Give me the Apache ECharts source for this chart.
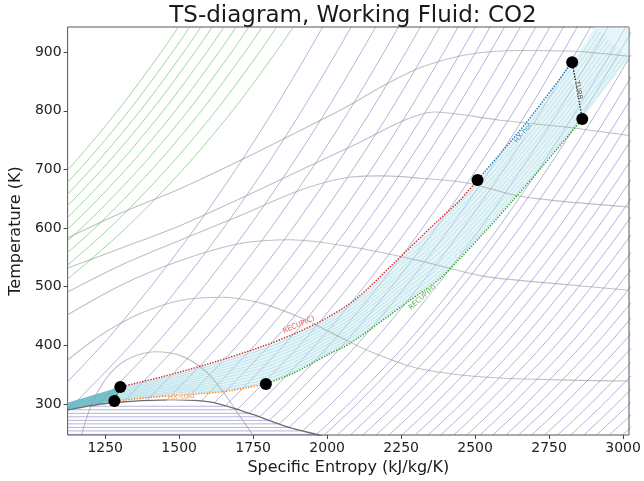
<!DOCTYPE html>
<html>
<head>
<meta charset="utf-8">
<script src="https://cdn.jsdelivr.net/npm/echarts@6/dist/echarts.min.js"></script>
<style>
html, body { margin: 0; padding: 0; background: #fff; }
#chart { width: 644px; height: 481px; }
</style>
</head>
<body>
<div id="chart"></div>
<script>
// axis ticks
var xTicks = [1250, 1500, 1750, 2000, 2250, 2500, 2750, 3000];
var yTicks = [300, 400, 500, 600, 700, 800, 900];

// cycle states (s, T)
var stateS = [1281, 1301, 2508, 2828, 2862, 1793];
var stateT = [305, 329, 682, 883, 786, 334];

// process paths
var compPath = [[1281, 305], [1301, 329]];
var recupCPath = [[1301, 329], [1440, 346], [1610, 370], [1780, 398], [1900, 422], [2000, 447], [2100, 480], [2225, 540], [2373, 612], [2450, 648], [2508, 682]];
var hxHotPath = [[2508, 682], [2670, 778], [2828, 883]];
var turbPath = [[2828, 883], [2862, 786]];
var recupHPath = [[2862, 786], [2777, 735], [2710, 695], [2629, 648], [2528, 591], [2383, 515], [2272, 474], [2080, 404], [2002, 384], [1888, 353], [1793, 334]];
var hxColdPath = [[1793, 334], [1650, 321], [1500, 315], [1400, 311], [1281, 305]];

// process labels
var procNames = ['HX-cold', 'RECUP(C)', 'RECUP(H)', 'HX-hot', 'TURB'];
var procS = [1507, 1904, 2322, 2663, 2848];
var procT = [312, 435, 482, 762, 835];

// cycle pressure band edges
var highPEdge = [[1123, 302], [1301, 329], [1440, 346], [1610, 370], [1780, 398], [1900, 422], [2000, 447], [2100, 480], [2225, 540], [2373, 612], [2508, 682], [2670, 778], [2828, 883], [2905, 943]];
var lowPEdge = [[1123, 291], [1281, 305], [1500, 315], [1650, 321], [1793, 334], [1888, 353], [2002, 384], [2080, 404], [2272, 474], [2383, 515], [2528, 591], [2710, 695], [2862, 786], [3020, 890]];
var bandFractions = [0.08, 0.16, 0.24, 0.32, 0.4, 0.48, 0.56, 0.64, 0.72, 0.8, 0.88, 0.95];

// saturation dome
var domeS = [1123, 1271, 1473, 1608, 1743, 1877, 1972, 2012];
var domeT = [290, 302, 307, 303, 283, 259, 247, 240];

// isobars under the dome
var satT = [296, 290, 284, 278, 272, 266, 260, 254, 248];
var satLiqS = [1197, 1123, 1123, 1123, 1123, 1123, 1123, 1123, 1123];
var satVapS = [1655, 1696, 1736, 1771, 1804, 1838, 1871, 1917, 1964];

// blue lines: shape and position (s at 600 K)
var isoT = [247, 300, 400, 500, 600, 700, 800, 900, 945];
var isoDs = [0, 111, 301, 466, 616, 753, 880, 998, 1049];
var isoS600 = [1554, 1650, 1733, 1810, 1884, 1950, 2012, 2070, 2120, 2606, 2650, 2694, 2737, 2781, 2825, 2869, 2913, 2957, 3000, 3044,
  3088, 3132, 3176, 3220, 3263, 3307, 3351, 3395, 3439, 3483, 3526, 3570, 3614];

// green lines: shape and position (s at top)
var gT = [450, 500, 600, 700, 800, 900, 945];
var gDs = [0, 132, 360, 553, 720, 867, 928];
var gTopS = [1500, 1538, 1576, 1614, 1654, 1695, 1738, 1783, 1832, 1888];

// grey humped curves
var hump1 = [[1123, 583], [1305, 626], [1507, 668], [1709, 716], [1911, 767], [2063, 806], [2187, 842], [2316, 874], [2484, 897], [2653, 903], [2821, 902], [3020, 893]];
var hump2 = [[1123, 532], [1305, 566], [1507, 605], [1709, 651], [1911, 699], [2113, 747], [2248, 781], [2359, 798], [2585, 784], [2811, 772], [3020, 758]];
var hump3 = [[1123, 491], [1305, 537], [1507, 580], [1709, 622], [1911, 665], [2080, 687], [2191, 689], [2316, 685], [2474, 677], [2642, 655], [2787, 646], [3020, 636]];
var hump4 = [[1123, 452], [1305, 503], [1507, 545], [1709, 574], [1877, 580], [2080, 568], [2305, 545], [2528, 518], [2754, 506], [3020, 494]];
var hump5 = [[1123, 375], [1237, 418], [1372, 455], [1507, 477], [1642, 482], [1776, 472], [1911, 447], [2036, 416], [2147, 389], [2305, 361], [2528, 346], [2787, 341], [3020, 339]];
var hump6 = [[1170, 247], [1203, 298], [1254, 344], [1321, 375], [1416, 389], [1507, 382], [1591, 355], [1658, 314], [1709, 276], [1749, 247]];

var FONT = 'DejaVu Sans';

function interp(xs, ys, x) {
    if (x <= xs[0]) return ys[0];
    for (var i = 1; i < xs.length; i++) {
        if (x <= xs[i]) {
            var t = (x - xs[i - 1]) / (xs[i] - xs[i - 1]);
            return ys[i - 1] + t * (ys[i] - ys[i - 1]);
        }
    }
    return ys[ys.length - 1];
}

function domeAt(s) {
    if (s > domeS[domeS.length - 1]) return -Infinity;
    return interp(domeS, domeT, s);
}

// drop the part of a line that lies inside the dome
function clipDome(pts) {
    var i = 0;
    while (i < pts.length && pts[i][1] < domeAt(pts[i][0])) i++;
    if (i === 0 || i === pts.length) return i === 0 ? pts : [];
    var a = pts[i - 1], b = pts[i], lo = 0, hi = 1;
    for (var k = 0; k < 30; k++) {
        var m = (lo + hi) / 2;
        var s = a[0] + m * (b[0] - a[0]), T = a[1] + m * (b[1] - a[1]);
        if (T < domeAt(s)) lo = m; else hi = m;
    }
    var cut = [a[0] + hi * (b[0] - a[0]), a[1] + hi * (b[1] - a[1])];
    return [cut].concat(pts.slice(i));
}

function line(data, color, width, opts) {
    opts = opts || {};
    return {
        type: 'line', data: data, showSymbol: false, symbol: 'none', silent: true,
        smooth: opts.smooth === undefined ? 0.3 : opts.smooth,
        z: opts.z || 1, clip: true,
        lineStyle: {color: color, width: width, type: opts.type || 'solid'}
    };
}

var series = [];

// green lines
var greenColor = 'rgba(120,195,120,0.7)';
gTopS.forEach(function (top) {
    var pts = gT.map(function (T, i) { return [top - gDs[gDs.length - 1] + gDs[i], T]; });
    series.push(line(pts, greenColor, 1));
});

// blue lines
var blueColor = 'rgba(105,105,185,0.5)';
isoS600.forEach(function (s600) {
    var pts = isoT.map(function (T, i) { return [s600 + isoDs[i] - 616, T]; });
    series.push(line(clipDome(pts), blueColor, 1));
});
satT.forEach(function (T, k) {
    series.push(line([[satLiqS[k], T], [satVapS[k], T]], blueColor, 1, {smooth: false}));
    var off = satVapS[k] - interp(isoT, isoDs, T);
    var pts = [[satVapS[k], T]];
    isoT.forEach(function (t, i) { if (t > T + 15) pts.push([off + isoDs[i], t]); });
    series.push(line(pts, blueColor, 1));
});

// grey humps
var greyColor = 'rgba(150,150,150,0.6)';
[hump1, hump2, hump3, hump4, hump5, hump6].forEach(function (h) {
    series.push(line(h, greyColor, 1.1, {z: 2}));
});

// dome
series.push(line(domeS.map(function (s, i) { return [s, domeT[i]]; }), 'rgba(95,95,95,0.9)', 1.3, {z: 3}));

// band fills
var darkPoly = [highPEdge[0], highPEdge[1], lowPEdge[1], lowPEdge[0]];
var lightPoly = highPEdge.slice(1).concat([[3020, 943]]).concat(lowPEdge.slice(1).reverse());
function polySeries(poly, fill, z) {
    return {
        type: 'custom', silent: true, clip: true, z: z,
        renderItem: function (params, api) {
            return {
                type: 'polygon',
                shape: {points: poly.map(function (p) { return api.coord(p); })},
                style: {fill: fill}
            };
        },
        data: [[2000, 500]]
    };
}
series.push(polySeries(lightPoly, 'rgba(200,234,240,0.45)', 2));
series.push(polySeries(darkPoly, 'rgba(80,175,180,0.75)', 2));

// band isobars
bandFractions.forEach(function (f) {
    var pts = highPEdge.map(function (p, i) {
        var q = lowPEdge[i];
        return [p[0] + f * (q[0] - p[0]), p[1] + f * (q[1] - p[1])];
    });
    series.push(line(pts, 'rgba(110,190,210,0.4)', 0.8, {z: 3}));
});

// cycle processes
series.push(line(compPath, '#222', 1.4, {type: 'dotted', z: 5, smooth: false}));
series.push(line(recupCPath, '#d62728', 1.4, {type: 'dotted', z: 5}));
series.push(line(hxHotPath, '#1f77b4', 1.4, {type: 'dotted', z: 5}));
series.push(line(turbPath, '#222', 1.4, {type: 'dotted', z: 5, smooth: false}));
series.push(line(recupHPath, '#2ca02c', 1.4, {type: 'dotted', z: 5}));
series.push(line(hxColdPath, '#ff7f0e', 1.4, {type: 'dotted', z: 5}));

// state markers
series.push({
    type: 'scatter', z: 6, silent: true, symbolSize: 12,
    itemStyle: {color: '#000', opacity: 1},
    data: stateS.map(function (s, i) { return [s, stateT[i]]; })
});

// process labels
var labelColors = ['#ff7f0e', '#d62728', '#2ca02c', '#1f77b4', '#222'];
var labelRot = [3, 24, 42, 51, -80];
procNames.forEach(function (name, i) {
    series.push({
        type: 'scatter', z: 7, silent: true, symbolSize: 1,
        itemStyle: {color: 'rgba(0,0,0,0)'},
        data: [[procS[i], procT[i]]],
        label: {
            show: true, position: 'inside', formatter: name, rotate: labelRot[i],
            color: labelColors[i], fontSize: 7, fontFamily: FONT,
            backgroundColor: 'rgba(255,255,255,0.55)', padding: [0, 1]
        }
    });
});

function plain(v) { return String(v); }

var chart = echarts.init(document.getElementById('chart'));
chart.setOption({
    animation: false,
    backgroundColor: '#fff',
    title: {
        text: 'TS-diagram, Working Fluid: CO2',
        left: 348, top: 0, textAlign: 'center',
        textStyle: {fontFamily: FONT, fontSize: 23, fontWeight: 'normal', color: '#1a1a1a'}
    },
    grid: {left: 66, right: 15, top: 27, bottom: 46, show: true, borderColor: '#555', borderWidth: 1, backgroundColor: 'transparent'},
    xAxis: {
        type: 'value', min: 1123, max: 3020,
        name: 'Specific Entropy (kJ/kg/K)', nameLocation: 'middle', nameGap: 22,
        nameTextStyle: {fontFamily: FONT, fontSize: 16, color: '#1a1a1a'},
        axisLine: {show: false},
        axisTick: {show: true, length: 4, lineStyle: {color: '#444'}, customValues: xTicks},
        axisLabel: {fontFamily: FONT, fontSize: 14, color: '#222', margin: 6, customValues: xTicks, formatter: plain},
        splitLine: {show: false}
    },
    yAxis: {
        type: 'value', min: 247, max: 943,
        name: 'Temperature (K)', nameLocation: 'middle', nameGap: 42,
        nameTextStyle: {fontFamily: FONT, fontSize: 16, color: '#1a1a1a'},
        axisLine: {show: false},
        axisTick: {show: true, length: 4, lineStyle: {color: '#444'}, customValues: yTicks},
        axisLabel: {fontFamily: FONT, fontSize: 14, color: '#222', margin: 6, customValues: yTicks, formatter: plain},
        splitLine: {show: false}
    },
    series: series
});
</script>
</body>
</html>
